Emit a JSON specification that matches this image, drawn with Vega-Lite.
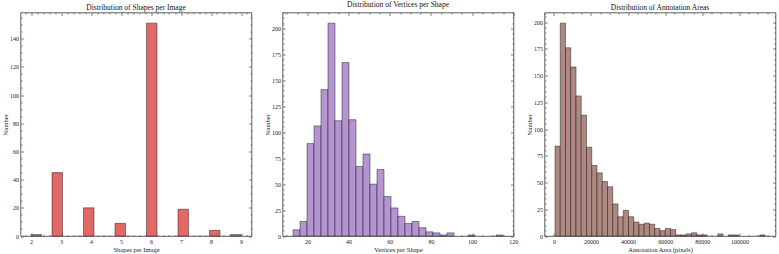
{
  "$schema": "https://vega.github.io/schema/vega-lite/v6.json",
  "background": "white",
  "padding": {"left": 1.5, "top": 0.5, "right": 0, "bottom": 0},
  "bounds": "flush",
  "spacing": 31,
  "config": {
    "font": "Liberation Serif",
    "view": {"stroke": "#333333", "strokeWidth": 0.8},
    "axis": {
      "domain": false,
      "grid": false,
      "labelFont": "Liberation Serif",
      "labelFontSize": 6,
      "labelColor": "#222222",
      "labelOverlap": false,
      "labelFlush": false,
      "labelPadding": 5,
      "titleFont": "Liberation Serif",
      "titleFontSize": 6.5,
      "titleFontWeight": "normal",
      "titleColor": "#222222",
      "titlePadding": 1,
      "tickColor": "#333333",
      "tickWidth": 0.6
    },
    "title": {"font": "Liberation Serif", "fontSize": 7.5, "fontWeight": "normal", "color": "#111111", "offset": 1}
  },
  "datasets": {
    "shapesPerImage": [
      {"start": 2.0, "end": 2.35, "count": 1},
      {"start": 2.7, "end": 3.05, "count": 45},
      {"start": 3.75, "end": 4.1, "count": 20},
      {"start": 4.8, "end": 5.15, "count": 9},
      {"start": 5.85, "end": 6.2, "count": 151},
      {"start": 6.9, "end": 7.25, "count": 19},
      {"start": 7.95, "end": 8.3, "count": 4},
      {"start": 8.65, "end": 9.0, "count": 1}
    ],
    "verticesPerShape": [
      {"start": 13.0, "end": 16.4, "count": 6},
      {"start": 16.4, "end": 19.8, "count": 14},
      {"start": 19.8, "end": 23.2, "count": 89},
      {"start": 23.2, "end": 26.6, "count": 106},
      {"start": 26.6, "end": 30.0, "count": 141},
      {"start": 30.0, "end": 33.4, "count": 205},
      {"start": 33.4, "end": 36.8, "count": 111},
      {"start": 36.8, "end": 40.2, "count": 167},
      {"start": 40.2, "end": 43.6, "count": 112},
      {"start": 43.6, "end": 47.0, "count": 67},
      {"start": 47.0, "end": 50.4, "count": 79},
      {"start": 50.4, "end": 53.8, "count": 50},
      {"start": 53.8, "end": 57.2, "count": 64},
      {"start": 57.2, "end": 60.6, "count": 38},
      {"start": 60.6, "end": 64.0, "count": 27},
      {"start": 64.0, "end": 67.4, "count": 19},
      {"start": 67.4, "end": 70.8, "count": 12},
      {"start": 70.8, "end": 74.2, "count": 14},
      {"start": 74.2, "end": 77.6, "count": 8},
      {"start": 77.6, "end": 81.0, "count": 4},
      {"start": 81.0, "end": 84.4, "count": 3},
      {"start": 84.4, "end": 87.8, "count": 1},
      {"start": 87.8, "end": 91.2, "count": 3},
      {"start": 98.0, "end": 101.4, "count": 1},
      {"start": 111.6, "end": 115.0, "count": 1}
    ],
    "annotationAreas": [
      {"start": 600, "end": 3430, "count": 84},
      {"start": 3430, "end": 6260, "count": 199},
      {"start": 6260, "end": 9090, "count": 176},
      {"start": 9090, "end": 11920, "count": 158},
      {"start": 11920, "end": 14750, "count": 131},
      {"start": 14750, "end": 17580, "count": 113},
      {"start": 17580, "end": 20410, "count": 83},
      {"start": 20410, "end": 23240, "count": 66},
      {"start": 23240, "end": 26070, "count": 59},
      {"start": 26070, "end": 28900, "count": 51},
      {"start": 28900, "end": 31730, "count": 46},
      {"start": 31730, "end": 34560, "count": 30},
      {"start": 34560, "end": 37390, "count": 18},
      {"start": 37390, "end": 40220, "count": 24},
      {"start": 40220, "end": 43050, "count": 18},
      {"start": 43050, "end": 45880, "count": 13},
      {"start": 45880, "end": 48710, "count": 11},
      {"start": 48710, "end": 51540, "count": 12},
      {"start": 51540, "end": 54370, "count": 11},
      {"start": 54370, "end": 57200, "count": 7},
      {"start": 57200, "end": 60030, "count": 5},
      {"start": 60030, "end": 62860, "count": 7},
      {"start": 62860, "end": 65690, "count": 6},
      {"start": 65690, "end": 68520, "count": 1},
      {"start": 68520, "end": 71350, "count": 1},
      {"start": 71350, "end": 74180, "count": 2},
      {"start": 74180, "end": 77010, "count": 3},
      {"start": 77010, "end": 79840, "count": 1},
      {"start": 79840, "end": 82670, "count": 1},
      {"start": 88330, "end": 91160, "count": 2},
      {"start": 93990, "end": 96820, "count": 1},
      {"start": 96820, "end": 99650, "count": 1},
      {"start": 110970, "end": 113800, "count": 1}
    ]
  },
  "hconcat": [
    {
      "title": "Distribution of Shapes per Image",
      "width": 231,
      "height": 223.5,
      "data": {"name": "shapesPerImage"},
      "layer": [
        {
          "mark": {"type": "bar", "fill": "#E26868", "stroke": "#000000", "strokeOpacity": 0.7, "strokeWidth": 0.6},
          "encoding": {
            "x": {
              "field": "start", "type": "quantitative",
              "scale": {"domain": [1.65, 9.35], "nice": false, "zero": false},
              "axis": {
                "orient": "bottom", "title": "Shapes per Image", "labelOverlap": false,
                "values": [1.8, 2, 2.2, 2.4, 2.6, 2.8, 3, 3.2, 3.4, 3.6, 3.8, 4, 4.2, 4.4, 4.6, 4.8, 5, 5.2, 5.4, 5.6, 5.8, 6, 6.2, 6.4, 6.6, 6.8, 7, 7.2, 7.4, 7.6, 7.8, 8, 8.2, 8.4, 8.6, 8.8, 9, 9.2],
                "labelExpr": "indexof([2, 3, 4, 5, 6, 7, 8, 9], datum.value) >= 0 ? format(datum.value, 'd') : ''",
                "tickSize": {"condition": {"test": "indexof([2, 3, 4, 5, 6, 7, 8, 9], datum.value) >= 0", "value": -3}, "value": -1.5}
              }
            },
            "x2": {"field": "end"},
            "y": {
              "field": "count", "type": "quantitative",
              "scale": {"domain": [0, 158.55], "nice": false},
              "axis": {
                "orient": "left", "title": "Number", "labelOverlap": false,
                "values": [0, 5, 10, 15, 20, 25, 30, 35, 40, 45, 50, 55, 60, 65, 70, 75, 80, 85, 90, 95, 100, 105, 110, 115, 120, 125, 130, 135, 140, 145, 150, 155],
                "labelExpr": "datum.value % 20 === 0 ? datum.label : ''",
                "tickSize": {"condition": {"test": "datum.value % 20 === 0", "value": -3}, "value": -1.5}
              }
            },
            "y2": {"datum": 0}
          }
        },
        {
          "mark": {"type": "bar", "opacity": 0},
          "encoding": {
            "x": {
              "field": "start", "type": "quantitative",
              "axis": {
                "orient": "top", "title": null, "labels": false,
                "values": [1.8, 2, 2.2, 2.4, 2.6, 2.8, 3, 3.2, 3.4, 3.6, 3.8, 4, 4.2, 4.4, 4.6, 4.8, 5, 5.2, 5.4, 5.6, 5.8, 6, 6.2, 6.4, 6.6, 6.8, 7, 7.2, 7.4, 7.6, 7.8, 8, 8.2, 8.4, 8.6, 8.8, 9, 9.2],
                "tickSize": {"condition": {"test": "indexof([2, 3, 4, 5, 6, 7, 8, 9], datum.value) >= 0", "value": -3}, "value": -1.5}
              }
            },
            "x2": {"field": "end"},
            "y": {
              "field": "count", "type": "quantitative",
              "axis": {
                "orient": "right", "title": null, "labels": false,
                "values": [0, 5, 10, 15, 20, 25, 30, 35, 40, 45, 50, 55, 60, 65, 70, 75, 80, 85, 90, 95, 100, 105, 110, 115, 120, 125, 130, 135, 140, 145, 150, 155],
                "tickSize": {"condition": {"test": "datum.value % 20 === 0", "value": -3}, "value": -1.5}
              }
            },
            "y2": {"datum": 0}
          }
        }
      ],
      "resolve": {"axis": {"x": "independent", "y": "independent"}}
    },
    {
      "title": "Distribution of Vertices per Shape",
      "width": 231,
      "height": 223.5,
      "data": {"name": "verticesPerShape"},
      "layer": [
        {
          "mark": {"type": "bar", "fill": "#B495D1", "stroke": "#000000", "strokeOpacity": 0.7, "strokeWidth": 0.6},
          "encoding": {
            "x": {
              "field": "start", "type": "quantitative",
              "scale": {"domain": [7.9, 120.1], "nice": false, "zero": false},
              "axis": {
                "orient": "bottom", "title": "Vertices per Shape", "format": "d", "labelOverlap": false,
                "values": [10, 15, 20, 25, 30, 35, 40, 45, 50, 55, 60, 65, 70, 75, 80, 85, 90, 95, 100, 105, 110, 115, 120],
                "labelExpr": "datum.value % 20 === 0 ? datum.label : ''",
                "tickSize": {"condition": {"test": "datum.value % 20 === 0", "value": -3}, "value": -1.5}
              }
            },
            "x2": {"field": "end"},
            "y": {
              "field": "count", "type": "quantitative",
              "scale": {"domain": [0, 215.25], "nice": false},
              "axis": {
                "orient": "left", "title": "Number", "labelOverlap": false,
                "values": [0, 5, 10, 15, 20, 25, 30, 35, 40, 45, 50, 55, 60, 65, 70, 75, 80, 85, 90, 95, 100, 105, 110, 115, 120, 125, 130, 135, 140, 145, 150, 155, 160, 165, 170, 175, 180, 185, 190, 195, 200, 205, 210, 215],
                "labelExpr": "datum.value % 25 === 0 ? datum.label : ''",
                "tickSize": {"condition": {"test": "datum.value % 25 === 0", "value": -3}, "value": -1.5}
              }
            },
            "y2": {"datum": 0}
          }
        },
        {
          "mark": {"type": "bar", "opacity": 0},
          "encoding": {
            "x": {
              "field": "start", "type": "quantitative",
              "axis": {
                "orient": "top", "title": null, "labels": false,
                "values": [10, 15, 20, 25, 30, 35, 40, 45, 50, 55, 60, 65, 70, 75, 80, 85, 90, 95, 100, 105, 110, 115, 120],
                "tickSize": {"condition": {"test": "datum.value % 20 === 0", "value": -3}, "value": -1.5}
              }
            },
            "x2": {"field": "end"},
            "y": {
              "field": "count", "type": "quantitative",
              "axis": {
                "orient": "right", "title": null, "labels": false,
                "values": [0, 5, 10, 15, 20, 25, 30, 35, 40, 45, 50, 55, 60, 65, 70, 75, 80, 85, 90, 95, 100, 105, 110, 115, 120, 125, 130, 135, 140, 145, 150, 155, 160, 165, 170, 175, 180, 185, 190, 195, 200, 205, 210, 215],
                "tickSize": {"condition": {"test": "datum.value % 25 === 0", "value": -3}, "value": -1.5}
              }
            },
            "y2": {"datum": 0}
          }
        }
      ],
      "resolve": {"axis": {"x": "independent", "y": "independent"}}
    },
    {
      "title": "Distribution of Annotation Areas",
      "width": 231,
      "height": 223.5,
      "data": {"name": "annotationAreas"},
      "layer": [
        {
          "mark": {"type": "bar", "fill": "#AF8981", "stroke": "#000000", "strokeOpacity": 0.7, "strokeWidth": 0.6},
          "encoding": {
            "x": {
              "field": "start", "type": "quantitative",
              "scale": {"domain": [-5060, 119460], "nice": false, "zero": false},
              "axis": {
                "orient": "bottom", "title": "Annotation Area (pixels)", "format": "d", "labelOverlap": false,
                "values": [-5000, 0, 5000, 10000, 15000, 20000, 25000, 30000, 35000, 40000, 45000, 50000, 55000, 60000, 65000, 70000, 75000, 80000, 85000, 90000, 95000, 100000, 105000, 110000, 115000],
                "labelExpr": "datum.value % 20000 === 0 ? datum.label : ''",
                "tickSize": {"condition": {"test": "datum.value % 20000 === 0", "value": -3}, "value": -1.5}
              }
            },
            "x2": {"field": "end"},
            "y": {
              "field": "count", "type": "quantitative",
              "scale": {"domain": [0, 208.95], "nice": false},
              "axis": {
                "orient": "left", "title": "Number", "labelOverlap": false,
                "values": [0, 5, 10, 15, 20, 25, 30, 35, 40, 45, 50, 55, 60, 65, 70, 75, 80, 85, 90, 95, 100, 105, 110, 115, 120, 125, 130, 135, 140, 145, 150, 155, 160, 165, 170, 175, 180, 185, 190, 195, 200, 205],
                "labelExpr": "datum.value % 25 === 0 ? datum.label : ''",
                "tickSize": {"condition": {"test": "datum.value % 25 === 0", "value": -3}, "value": -1.5}
              }
            },
            "y2": {"datum": 0}
          }
        },
        {
          "mark": {"type": "bar", "opacity": 0},
          "encoding": {
            "x": {
              "field": "start", "type": "quantitative",
              "axis": {
                "orient": "top", "title": null, "labels": false,
                "values": [-5000, 0, 5000, 10000, 15000, 20000, 25000, 30000, 35000, 40000, 45000, 50000, 55000, 60000, 65000, 70000, 75000, 80000, 85000, 90000, 95000, 100000, 105000, 110000, 115000],
                "tickSize": {"condition": {"test": "datum.value % 20000 === 0", "value": -3}, "value": -1.5}
              }
            },
            "x2": {"field": "end"},
            "y": {
              "field": "count", "type": "quantitative",
              "axis": {
                "orient": "right", "title": null, "labels": false,
                "values": [0, 5, 10, 15, 20, 25, 30, 35, 40, 45, 50, 55, 60, 65, 70, 75, 80, 85, 90, 95, 100, 105, 110, 115, 120, 125, 130, 135, 140, 145, 150, 155, 160, 165, 170, 175, 180, 185, 190, 195, 200, 205],
                "tickSize": {"condition": {"test": "datum.value % 25 === 0", "value": -3}, "value": -1.5}
              }
            },
            "y2": {"datum": 0}
          }
        }
      ],
      "resolve": {"axis": {"x": "independent", "y": "independent"}}
    }
  ]
}
